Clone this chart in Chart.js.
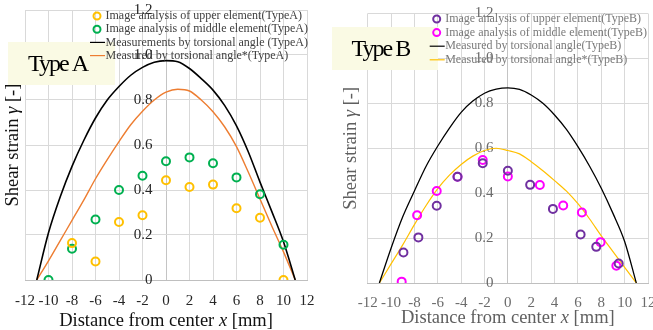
<!DOCTYPE html>
<html>
<head>
<meta charset="utf-8">
<script src="https://cdn.jsdelivr.net/npm/chart.js@4/dist/chart.umd.min.js"></script>
<style>
  html, body { margin: 0; padding: 0; background: #fff; overflow: hidden; width: 653px; height: 330px; }
  #boxA { position: absolute; left: 0; top: 0; width: 330px; height: 330px; }
  #boxB { position: absolute; left: 330px; top: 0; width: 340px; height: 330px; }
</style>
</head>
<body>
<div id="boxA"><canvas id="chartA"></canvas></div>
<div id="boxB"><canvas id="chartB"></canvas></div>
<script>
// Type A - punkty z analizy obrazu
const upperAx = [-8, -6, -4, -2, 0, 2, 4, 6, 8, 10];
const upperAy = [0.164, 0.082, 0.258, 0.288, 0.443, 0.413, 0.424, 0.319, 0.277, 0];
const middleAx = [-10, -8, -6, -4, -2, 0, 2, 4, 6, 8, 10];
const middleAy = [0, 0.139, 0.269, 0.40, 0.463, 0.528, 0.545, 0.519, 0.456, 0.381, 0.157];

// krzywe (odczytane co 1 mm)
const curveX = [-11, -10, -9, -8, -7, -6, -5, -4, -3, -2, -1, 0, 1, 2, 3, 4, 5, 6, 7, 8, 9, 10, 11];
const torsionA = [0, 0.21, 0.37, 0.505, 0.62, 0.72, 0.80, 0.86, 0.91, 0.945, 0.968, 0.975, 0.97, 0.94, 0.895, 0.844, 0.775, 0.685, 0.57, 0.435, 0.305, 0.17, 0];
const torsionStarA = [0, 0.085, 0.175, 0.265, 0.355, 0.45, 0.535, 0.615, 0.69, 0.75, 0.80, 0.835, 0.848, 0.84, 0.80, 0.748, 0.68, 0.593, 0.48, 0.36, 0.24, 0.125, 0];

// Type B
const upperBx = [-8.94, -7.66, -6.09, -4.31, -2.15, 0, 1.91, 3.86, 6.23, 7.57, 9.49];
const upperBy = [0.136, 0.203, 0.344, 0.473, 0.533, 0.50, 0.437, 0.33, 0.216, 0.161, 0.087];
const middleBx = [-9.09, -7.77, -6.09, -4.31, -2.15, 0, 2.74, 4.74, 6.34, 7.94, 9.29];
const middleBy = [0.006, 0.302, 0.41, 0.473, 0.548, 0.474, 0.436, 0.345, 0.314, 0.182, 0.077];
const torsionB = [0, 0.155, 0.295, 0.41, 0.52, 0.61, 0.69, 0.76, 0.81, 0.845, 0.863, 0.869, 0.862, 0.837, 0.80, 0.748, 0.685, 0.607, 0.52, 0.422, 0.31, 0.185, 0];
const torsionStarB = [0, 0.085, 0.17, 0.26, 0.345, 0.42, 0.48, 0.528, 0.565, 0.59, 0.60, 0.59, 0.575, 0.54, 0.50, 0.456, 0.41, 0.353, 0.285, 0.21, 0.14, 0.07, 0];

const xTicks = [-12, -10, -8, -6, -4, -2, 0, 2, 4, 6, 8, 10, 12];
const yTicks = [0, 0.2, 0.4, 0.6, 0.8, 1, 1.2];

const SERIF = '"Liberation Serif", "Times New Roman", serif';

function punkty(xs, ys) {
  return xs.map((x, i) => ({ x: x, y: ys[i] }));
}

function serieKropki(label, xs, ys, kolor) {
  return {
    label: label,
    data: punkty(xs, ys),
    showLine: false,
    pointStyle: 'circle',
    pointRadius: 4,
    pointBorderWidth: 2,
    borderColor: kolor,
    pointBackgroundColor: 'rgba(0,0,0,0)',
    backgroundColor: 'rgba(0,0,0,0)'
  };
}

function serieLinia(label, ys, kolor, grubosc) {
  return {
    label: label,
    data: punkty(curveX, ys),
    showLine: true,
    pointRadius: 0,
    borderColor: kolor,
    borderWidth: grubosc,
    cubicInterpolationMode: 'monotone'
  };
}

// napisy, legenda i ramka "Type"
const dekoracje = {
  id: 'dekoracje',
  beforeDatasetsDraw(chart, args, o) {
    const ctx = chart.ctx;
    ctx.save();
    ctx.fillStyle = o.boxColor;
    ctx.fillRect(o.box[0], o.box[1], o.box[2], o.box[3]);
    ctx.font = '24px ' + SERIF;
    ctx.letterSpacing = '-2px';
    ctx.fillStyle = '#000';
    ctx.textBaseline = 'middle';
    ctx.fillText(o.typeText, o.typeX, o.typeY);
    ctx.restore();
  },
  afterDraw(chart, args, o) {
    const ctx = chart.ctx;
    ctx.save();
    // legenda
    ctx.font = '12px ' + SERIF;
    ctx.textBaseline = 'middle';
    chart.data.datasets.forEach((ds, i) => {
      const y = o.legY + i * o.legStep;
      if (ds.showLine) {
        ctx.strokeStyle = ds.borderColor;
        ctx.lineWidth = 1.2;
        ctx.beginPath();
        ctx.moveTo(o.legX - 7, y);
        ctx.lineTo(o.legX + 8, y);
        ctx.stroke();
      } else {
        ctx.strokeStyle = ds.borderColor;
        ctx.lineWidth = 2;
        ctx.beginPath();
        ctx.arc(o.legX, y, 3.5, 0, Math.PI * 2);
        ctx.stroke();
      }
      ctx.fillStyle = o.legColor;
      ctx.fillText(ds.label, o.legX + 8.5, y);
    });

    // tytuly osi
    ctx.fillStyle = o.titleColor;
    const area = chart.chartArea;
    const czesci = (parts) => parts.reduce((s, p) => {
      ctx.font = (p[1] ? 'italic ' : '') + '18.5px ' + SERIF;
      return s + ctx.measureText(p[0]).width;
    }, 0);
    const rysuj = (parts, x0, y0) => {
      let x = x0;
      parts.forEach(p => {
        ctx.font = (p[1] ? 'italic ' : '') + '18.5px ' + SERIF;
        ctx.fillText(p[0], x, y0);
        x += ctx.measureText(p[0]).width;
      });
    };
    ctx.textBaseline = 'middle';
    const xt = [['Distance from center ', false], ['x', true], [' [mm]', false]];
    const xc = chart.scales.x.getPixelForValue(0);
    rysuj(xt, xc - czesci(xt) / 2, o.xTitleY);

    const yt = [['Shear strain ', false], ['\u03b3', true], [' [-]', false]];
    ctx.translate(o.yTitleX, (area.top + area.bottom) / 2);
    ctx.rotate(-Math.PI / 2);
    rysuj(yt, -czesci(yt) / 2, 0);
    ctx.restore();
  }
};

function zrobWykres(id, datasets, d) {
  return new Chart(document.getElementById(id), {
    type: 'scatter',
    data: { datasets: datasets },
    options: {
      responsive: true,
      maintainAspectRatio: false,
      animation: false,
      layout: { padding: d.padding },
      plugins: {
        legend: { display: false },
        tooltip: { enabled: false },
        dekoracje: d.deko
      },
      scales: {
        x: {
          type: 'linear',
          min: -12,
          max: 12,
          afterBuildTicks: (s) => { s.ticks = xTicks.map(v => ({ value: v })); },
          grid: { color: (c) => c.tick && c.tick.value === 0 ? '#c4c4c4' : '#d9d9d9', drawTicks: false },
          border: { color: '#bfbfbf' },
          ticks: { autoSkip: false, maxRotation: 0, padding: d.xPad, color: d.tickColor, font: { family: SERIF, size: 15 } }
        },
        y: {
          type: 'linear',
          // etykiety osi y stoja tuz przed linia x = 0
          position: { x: d.yLabelAt },
          min: 0,
          max: 1.2,
          afterBuildTicks: (s) => { s.ticks = yTicks.map(v => ({ value: v })); },
          grid: { color: '#d9d9d9', drawTicks: false },
          border: { display: false },
          ticks: { padding: 0, color: d.tickColor, font: { family: SERIF, size: 15 } }
        }
      }
    },
    plugins: [dekoracje]
  });
}

zrobWykres('chartA', [
  serieKropki('Image analysis of upper element(TypeA)', upperAx, upperAy, '#ffc000'),
  serieKropki('Image analysis of middle element(TypeA)', middleAx, middleAy, '#00b050'),
  serieLinia('Measurements by torsional angle (TypeA)', torsionA, '#000000', 1.6),
  serieLinia('Measured by torsional angle*(TypeA)', torsionStarA, '#ed7d31', 1.4)
], {
  padding: { left: 25, right: 23, top: 10, bottom: 8 },
  xPad: 12,
  yLabelAt: -1.15,
  tickColor: '#262626',
  deko: {
    box: [8, 42, 107, 43], boxColor: '#fafae4',
    typeText: 'Type A', typeX: 28, typeY: 65,
    legX: 97, legY: 16, legStep: 13.2, legColor: '#404040',
    titleColor: '#111', xTitleY: 321, yTitleX: 13.5
  }
});

zrobWykres('chartB', [
  serieKropki('Image analysis of upper element(TypeB)', upperBx, upperBy, '#7030a0'),
  serieKropki('Image analysis of middle element(TypeB)', middleBx, middleBy, '#ff00ff'),
  serieLinia('Measured by torsional angle(TypeB)', torsionB, '#000000', 1.3),
  serieLinia('Measured by torsional angle*(TypeB)', torsionStarB, '#ffc000', 1.2)
], {
  padding: { left: 37.7, right: 22, top: 13.5, bottom: 7 },
  xPad: 11,
  yLabelAt: -1.23,
  tickColor: '#6b6b6b',
  deko: {
    box: [2, 27, 106, 43], boxColor: '#fafae4',
    typeText: 'Type B', typeX: 21.5, typeY: 50,
    legX: 106.7, legY: 19, legStep: 13.6, legColor: '#7a7a7a',
    titleColor: '#5f5f5f', xTitleY: 318.5, yTitleX: 21
  }
});
</script>
</body>
</html>
